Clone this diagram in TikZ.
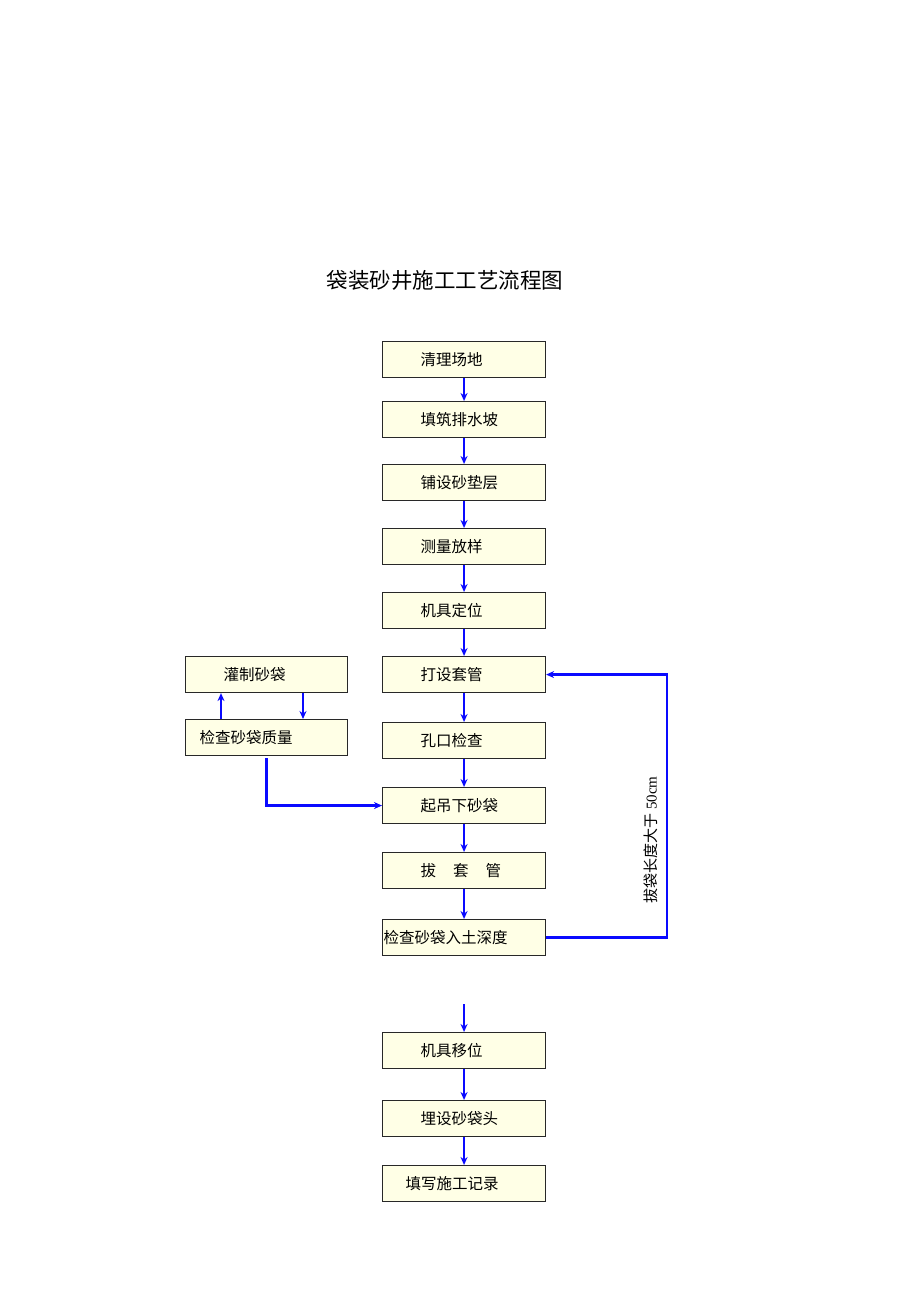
\documentclass[tikz,border=0pt]{standalone}
\usepackage{fontspec}
\setmainfont{Noto Sans CJK SC}
\newfontfamily\latinserif{Liberation Serif}
\usetikzlibrary{arrows.meta,calc}
\definecolor{boxfill}{RGB}{255,255,230}
\definecolor{boxline}{RGB}{40,40,40}
\definecolor{arrblue}{RGB}{10,10,255}
\begin{document}
\begin{tikzpicture}[x=1pt,y=-1pt,
  stepbox/.style={draw=boxline,line width=1.1pt,fill=boxfill,minimum height=36pt,
    text width=163pt,inner xsep=0pt,inner ysep=0pt,align=left,anchor=north west,
    font=\fontsize{15.5pt}{18pt}\selectfont},
  arr/.style={draw=arrblue,line width=2.4pt,-{Stealth[length=8pt,width=7pt]}},
  conn/.style={draw=arrblue,line width=2.4pt}]
\useasboundingbox (0,0) rectangle (920,1302);
\node[font=\fontsize{21.5pt}{25pt}\selectfont] (title) at (445,280) {袋装砂井施工工艺流程图};
\node[stepbox] (b1) at (382,341) {\hspace*{38pt}清理场地};
\node[stepbox] (b2) at (382,401) {\hspace*{38pt}填筑排水坡};
\node[stepbox] (b3) at (382,464) {\hspace*{38pt}铺设砂垫层};
\node[stepbox] (b4) at (382,528) {\hspace*{38pt}测量放样};
\node[stepbox] (b5) at (382,592) {\hspace*{38pt}机具定位};
\node[stepbox] (b6) at (382,656) {\hspace*{38pt}打设套管};
\node[stepbox] (b7) at (382,722) {\hspace*{38pt}孔口检查};
\node[stepbox] (b8) at (382,787) {\hspace*{38pt}起吊下砂袋};
\node[stepbox] (b9) at (382,852) {\hspace*{38pt}拔\hspace{17pt}套\hspace{17pt}管};
\node[stepbox] (b10) at (382,919) {\hspace*{1pt}检查砂袋入土深度};
\node[stepbox] (b11) at (382,1032) {\hspace*{38pt}机具移位};
\node[stepbox] (b12) at (382,1100) {\hspace*{38pt}埋设砂袋头};
\node[stepbox] (b13) at (382,1165) {\hspace*{23pt}填写施工记录};
\node[stepbox,text width=162pt] (l1) at (185,656) {\hspace*{38pt}灌制砂袋};
\node[stepbox,text width=162pt] (l2) at (185,719) {\hspace*{14pt}检查砂袋质量};
\draw[arr] (b1.south) -- (b2.north);
\draw[arr] (b2.south) -- (b3.north);
\draw[arr] (b3.south) -- (b4.north);
\draw[arr] (b4.south) -- (b5.north);
\draw[arr] (b5.south) -- (b6.north);
\draw[arr] (b6.south) -- (b7.north);
\draw[arr] (b7.south) -- (b8.north);
\draw[arr] (b8.south) -- (b9.north);
\draw[arr] (b9.south) -- (b10.north);
\coordinate (gapstart) at (b11.north |- 0,1004);
\draw[arr] (gapstart) -- (b11.north);
\draw[arr] (b11.south) -- (b12.north);
\draw[arr] (b12.south) -- (b13.north);
\draw[arr] ($(l2.north west)+(36,0)$) -- ($(l1.south west)+(36,0)$);
\draw[arr] ($(l1.south west)+(118,0)$) -- ($(l2.north west)+(118,0)$);
\draw[arr] ($(l2.south)+(0,2)$) |- (b8.west);
\draw[arr] (b10.east) -- ++(121,0) |- (b6.east);
\node[rotate=90,font=\fontsize{15pt}{18pt}\selectfont] (looplabel) at (651,840) {拔袋长度大于 {\latinserif 50cm}};
\end{tikzpicture}
\end{document}
